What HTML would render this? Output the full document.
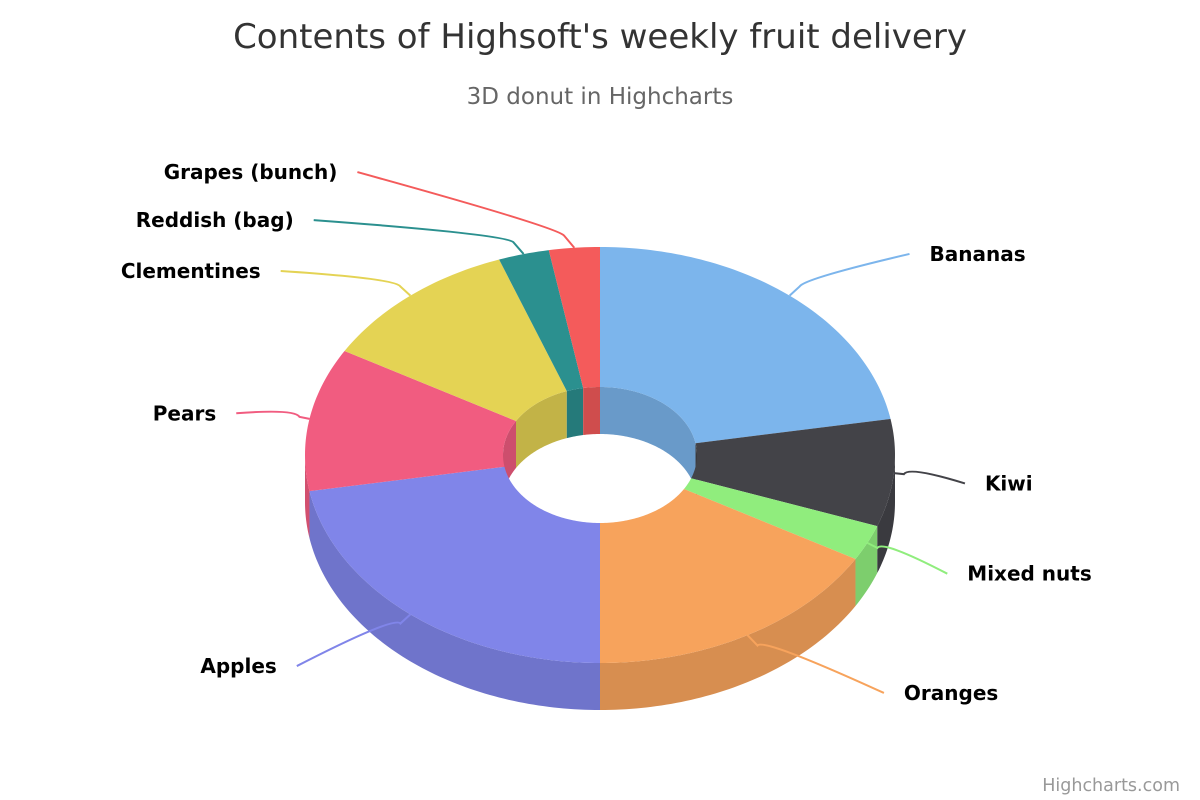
<!DOCTYPE html>
<html><head><meta charset="utf-8"><style>
html,body{margin:0;padding:0;background:#fff;}
svg{display:block;font-family:"DejaVu Sans","Liberation Sans",sans-serif;}
</style></head><body>
<svg id="chart" width="1200" height="800" viewBox="0 0 1200 800">
<text x="600" y="48" text-anchor="middle" font-size="34" fill="#333">Contents of Highsoft's weekly fruit delivery</text>
<text x="600" y="104" text-anchor="middle" font-size="23" fill="#666">3D donut in Highcharts</text>
<g id="walls"></g><g id="tops"></g><g id="labels"></g>
<text x="1180" y="791" text-anchor="end" font-size="17.5" fill="#999">Highcharts.com</text>
</svg>
<script>
const categories=['Bananas','Kiwi','Mixed nuts','Oranges','Apples','Pears','Clementines','Reddish (bag)','Grapes (bunch)'];
const values=[8,3,1,6,8,4,4,1,1];
const colors=['#7cb5ec','#434348','#90ed7d','#f7a35c','#8085e9','#f15c80','#e4d354','#2b908f','#f45b5b'];
const NS='http://www.w3.org/2000/svg';
const cx=600,cy=455,rx=295,ry=208,irx=97,iry=68,depth=47;
const D=Math.PI/180;
function dark(c,f){const n=parseInt(c.slice(1),16);let r=n>>16,g=(n>>8)&255,b=n&255;r=Math.round(r*f);g=Math.round(g*f);b=Math.round(b*f);return 'rgb('+r+','+g+','+b+')';}
function pt(a,RX,RY,dy){return [cx+RX*Math.sin(a*D),cy-RY*Math.cos(a*D)+dy];}
function arc(a1,a2,RX,RY,dy){const out=[];const n=Math.max(2,Math.ceil(Math.abs(a2-a1)));for(let i=0;i<=n;i++){out.push(pt(a1+(a2-a1)*i/n,RX,RY,dy));}return out;}
function poly(points){return 'M'+points.map(p=>p[0].toFixed(2)+','+p[1].toFixed(2)).join('L')+'Z';}
function mk(parent,tag,attrs){const e=document.createElementNS(NS,tag);for(const k in attrs)e.setAttribute(k,attrs[k]);document.getElementById(parent).appendChild(e);return e;}
const total=values.reduce((a,b)=>a+b,0);
let acc=0;const slices=values.map((v,i)=>{const a1=acc/total*360;acc+=v;return {a1,a2:acc/total*360,i};});
slices.forEach(s=>{
  [[-90,90],[270,450]].forEach(r=>{
    const lo=Math.max(s.a1,r[0]),hi=Math.min(s.a2,r[1]);
    if(hi>lo){
      const top=arc(lo,hi,irx,iry,0),bot=arc(hi,lo,irx,iry,depth);
      const e=mk('walls','path',{d:poly(top.concat(bot)),fill:dark(colors[s.i],0.85)});
      
      
    }
  });
  const lo=Math.max(s.a1,90),hi=Math.min(s.a2,270);
  if(hi>lo){
    const top=arc(lo,hi,rx,ry,0),bot=arc(hi,lo,rx,ry,depth);
    const e=mk('walls','path',{d:poly(top.concat(bot)),fill:dark(colors[s.i],0.87)});
    
    
  }
});
slices.forEach(s=>{
  const top=arc(s.a1,s.a2,rx,ry,0),inner=arc(s.a2,s.a1,irx,iry,0);
  const e=mk('tops','path',{d:poly(top.concat(inner)),fill:colors[s.i]});
  
  
});
const R=386;
const labs=slices.map(s=>{const m=(s.a1+s.a2)/2;return {s,m,right:m<180,y:460-269*Math.cos(m*D)};});
function spread(list){
  const down=list.slice().sort((a,b)=>a.y-b.y);
  const yd=down.map(l=>l.y);for(let k=1;k<yd.length;k++)if(yd[k]<yd[k-1]+48)yd[k]=yd[k-1]+48;
  const yu=down.map(l=>l.y);for(let k=yu.length-2;k>=0;k--)if(yu[k]>yu[k+1]-48)yu[k]=yu[k+1]-48;
  down.forEach((l,k)=>{l.y=(yd[k]+yu[k])/2;});
}
spread(labs.filter(l=>!l.right));
spread(labs.filter(l=>l.right));
labs.forEach(l=>{
  const dy=l.y-cy;const xo=Math.sqrt(Math.max(0,R*R-dy*dy));
  const lx=l.right?cx+xo:cx-xo;
  const edge=pt(l.m,rx,ry,0);
  const br=[edge[0]+(l.right?10:-10),edge[1]-12*Math.cos(l.m*D)];
  const sx=l.right?lx-20:lx+20;
  const c=colors[l.s.i];
  const p=mk('labels','path',{d:'M'+sx+','+(l.y)+' Q'+(br[0]+(l.right?5:-5))+','+(br[1]-8)+' '+br[0]+','+br[1]+' L'+edge[0]+','+edge[1],fill:'none',stroke:c,'stroke-width':2});
  
  
  const t=mk('labels','text',{x:lx,y:l.y+7,'font-size':20,'font-weight':'bold',fill:'#000','text-anchor':l.right?'start':'end'});
  t.textContent=categories[l.s.i];
  
  
});
</script>
</body></html>
